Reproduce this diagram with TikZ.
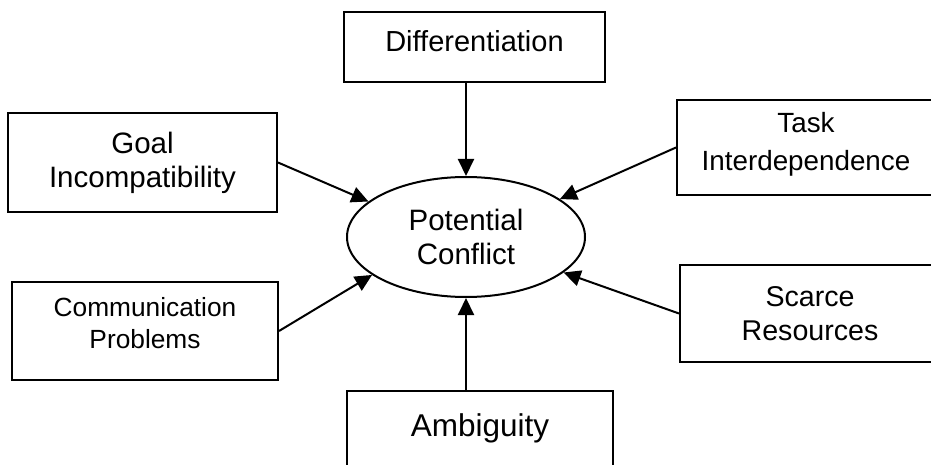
\documentclass[tikz,border=0pt]{standalone}
\usepackage{fontspec}
\setmainfont{Liberation Sans}
\usetikzlibrary{arrows.meta,shapes.geometric}
\begin{document}
\begin{tikzpicture}[x=1pt,y=-1pt,
  box/.style={draw, line width=2pt, rectangle, inner sep=0pt, align=center},
  arr/.style={line width=2pt, -{Triangle[length=17pt,width=16pt]}},
  txt/.style={font=\fontsize{29.5}{34}\selectfont}]
\useasboundingbox (0,0) rectangle (931,465);
\node[draw, line width=2pt, ellipse, inner sep=0pt, minimum width=238pt, minimum height=120pt, align=center, txt] (pc) at (466,237) {Potential\\Conflict};
\node[box, font=\fontsize{29}{34}\selectfont, minimum width=261pt, minimum height=70pt, text depth=12pt] (diff) at (474.5,47) {Differentiation};
\node[box, txt, minimum width=269pt, minimum height=99pt] (goal) at (142.5,162.5) {Goal\\Incompatibility};
\node[box, font=\fontsize{26.3}{32}\selectfont, minimum width=266pt, minimum height=98pt, text depth=16pt] (comm) at (145,331) {Communication\\Problems};
\node[box, font=\fontsize{27.8}{38}\selectfont, minimum width=258pt, minimum height=95pt, text depth=12pt] (task) at (806,147.5) {Task\\Interdependence};
\node[box, font=\fontsize{28.6}{34}\selectfont, minimum width=260pt, minimum height=97pt] (scarce) at (810,313.5) {Scarce\\Resources};
\node[box, draw=none, font=\fontsize{31.5}{36}\selectfont, minimum width=264pt, minimum height=73pt] (amb) at (480,428.5) {Ambiguity};
\draw[line width=2pt] (amb.south west) -- (amb.north west) -- (amb.north east) -- (amb.south east);
\draw[arr] (diff.south -| pc.north) -- (pc.north);
\draw[arr] (amb.north -| pc.south) -- (pc.south);
\draw[arr] (goal.east) -- (pc.160);
\draw[arr] (task.west) -- (pc.22);
\draw[arr] (comm.east) -- (pc.202);
\draw[arr] (scarce.west) -- (pc.340);
\end{tikzpicture}
\end{document}
